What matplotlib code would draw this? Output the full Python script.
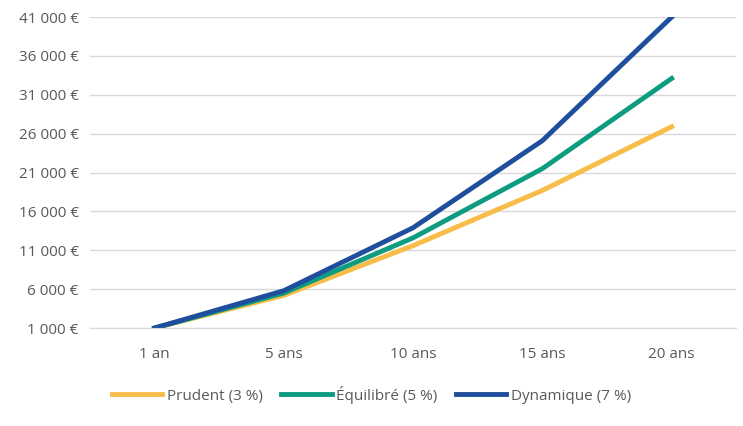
import matplotlib.pyplot as plt

plt.rcParams['font.family'] = 'Open Sans'

categories = ['1 an', '5 ans', '10 ans', '15 ans', '20 ans']
prudent = [1000, 5200, 11600, 18700, 26900]
equilibre = [1000, 5500, 12600, 21500, 33100]
dynamique = [1000, 5800, 13900, 25100, 41000]
y_ticks = [1000, 6000, 11000, 16000, 21000, 26000, 31000, 36000, 41000]
y_labels = ['1 000 €', '6 000 €', '11 000 €', '16 000 €', '21 000 €',
            '26 000 €', '31 000 €', '36 000 €', '41 000 €']

fig = plt.figure(figsize=(7.43, 4.26), dpi=100)
ax = fig.add_axes([0.121, 0.23, 0.87, 0.73])

x = range(len(categories))
ax.plot(x, prudent, color='#F8BC48', lw=3.5, label='Prudent (3 %)')
ax.plot(x, equilibre, color='#0E9C80', lw=3.5, label='Équilibré (5 %)')
ax.plot(x, dynamique, color='#1F4E9C', lw=3.5, label='Dynamique (7 %)')

ax.set_xlim(-0.5, 4.5)
ax.set_ylim(1000, 41000)
ax.set_yticks(y_ticks)
ax.set_yticklabels(y_labels)
ax.set_xticks(list(x))
ax.set_xticklabels(categories)
ax.grid(axis='y', color='#D9D9D9', lw=1)
ax.set_axisbelow(True)
for s in ['top', 'right', 'left']:
    ax.spines[s].set_visible(False)
ax.spines['bottom'].set_color('#D9D9D9')
ax.tick_params(length=0, labelsize=11, colors='#595959', pad=8)
ax.tick_params(axis='x', pad=14)

fig.legend(loc='lower center', ncol=3, frameon=False, fontsize=11,
           bbox_to_anchor=(0.5, 0.02), handlelength=3.3, handletextpad=0.3,
           columnspacing=1.2, labelcolor='#595959')

fig.savefig('out.png', dpi=100)
